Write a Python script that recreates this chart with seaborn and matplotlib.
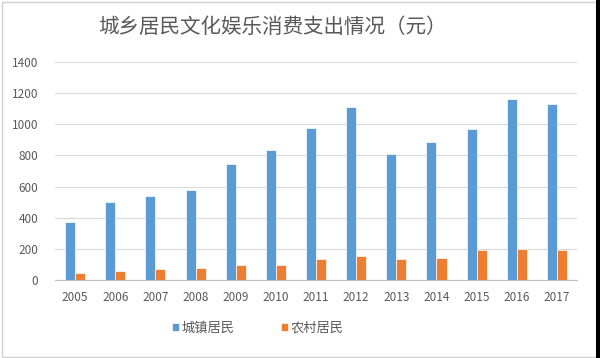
import matplotlib
matplotlib.use("Agg")
import matplotlib.pyplot as plt
import seaborn as sns
import pandas as pd

years = ["2005", "2006", "2007", "2008", "2009", "2010", "2011", "2012",
         "2013", "2014", "2015", "2016", "2017"]
urban = [375, 502, 542, 581, 748, 838, 979, 1112, 810, 887, 971, 1164, 1132]
rural = [47, 60, 73, 79, 98, 96, 137, 154, 137, 144, 195, 199, 195]
series_names = ["城镇居民", "农村居民"]
title = "城乡居民文化娱乐消费支出情况（元）"

sns.set_style("white")
plt.rcParams['font.family'] = ['Noto Sans CJK SC', 'DejaVu Sans']

df = pd.DataFrame({
    "year": years * 2,
    "value": urban + rural,
    "series": [series_names[0]] * len(years) + [series_names[1]] * len(years),
})

fig = plt.figure(figsize=(6.0, 3.58), dpi=100)
ax = fig.add_axes([55 / 600, 1 - 280 / 358, (577 - 55) / 600, (280 - 62) / 358])

palette = {series_names[0]: "#5B9BD5", series_names[1]: "#ED7D31"}
sns.barplot(data=df, x="year", y="value", hue="series", palette=palette,
            width=0.5, gap=0.0, ax=ax, saturation=1, legend=True,
            edgecolor="white", linewidth=0.5)

ax.set_ylim(0, 1400)
ax.set_yticks(range(0, 1401, 200))
ax.set_xlim(-0.5, len(years) - 0.5)
ax.set_xlabel("")
ax.set_ylabel("")
ax.yaxis.grid(True, color="#D9D9D9", linewidth=0.8)
ax.set_axisbelow(True)
for s in ["left", "right", "top"]:
    ax.spines[s].set_visible(False)
ax.spines["bottom"].set_color("#BFBFBF")
ax.tick_params(axis="both", length=0, colors="#595959", labelsize=8.5)
ax.tick_params(axis="x", pad=8)
ax.tick_params(axis="y", pad=12)

handles, labels = ax.get_legend_handles_labels()
ax.legend(handles, labels, loc="center", bbox_to_anchor=(258 / 600, 1 - 328 / 358),
          bbox_transform=fig.transFigure,
          ncol=2, frameon=False, fontsize=9.5, handlelength=0.55,
          handleheight=0.55, handletextpad=0.2, columnspacing=3.5,
          labelcolor="#595959")

fig.text(272 / 600, 1 - 27 / 358, title, ha="center", va="center",
         fontsize=14.8, color="#595959")

# outer frame and dark right edge
fig.patches.append(plt.Rectangle((1.5 / 600, 1.5 / 358), 594 / 600, 355 / 358,
                                 transform=fig.transFigure, fill=False,
                                 edgecolor="#D0D0D0", linewidth=1))
fig.patches.append(plt.Rectangle((596 / 600, 0), 4 / 600, 1,
                                 transform=fig.transFigure, fill=True,
                                 facecolor="#000000", edgecolor="none"))

fig.savefig("out.png", dpi=100)
